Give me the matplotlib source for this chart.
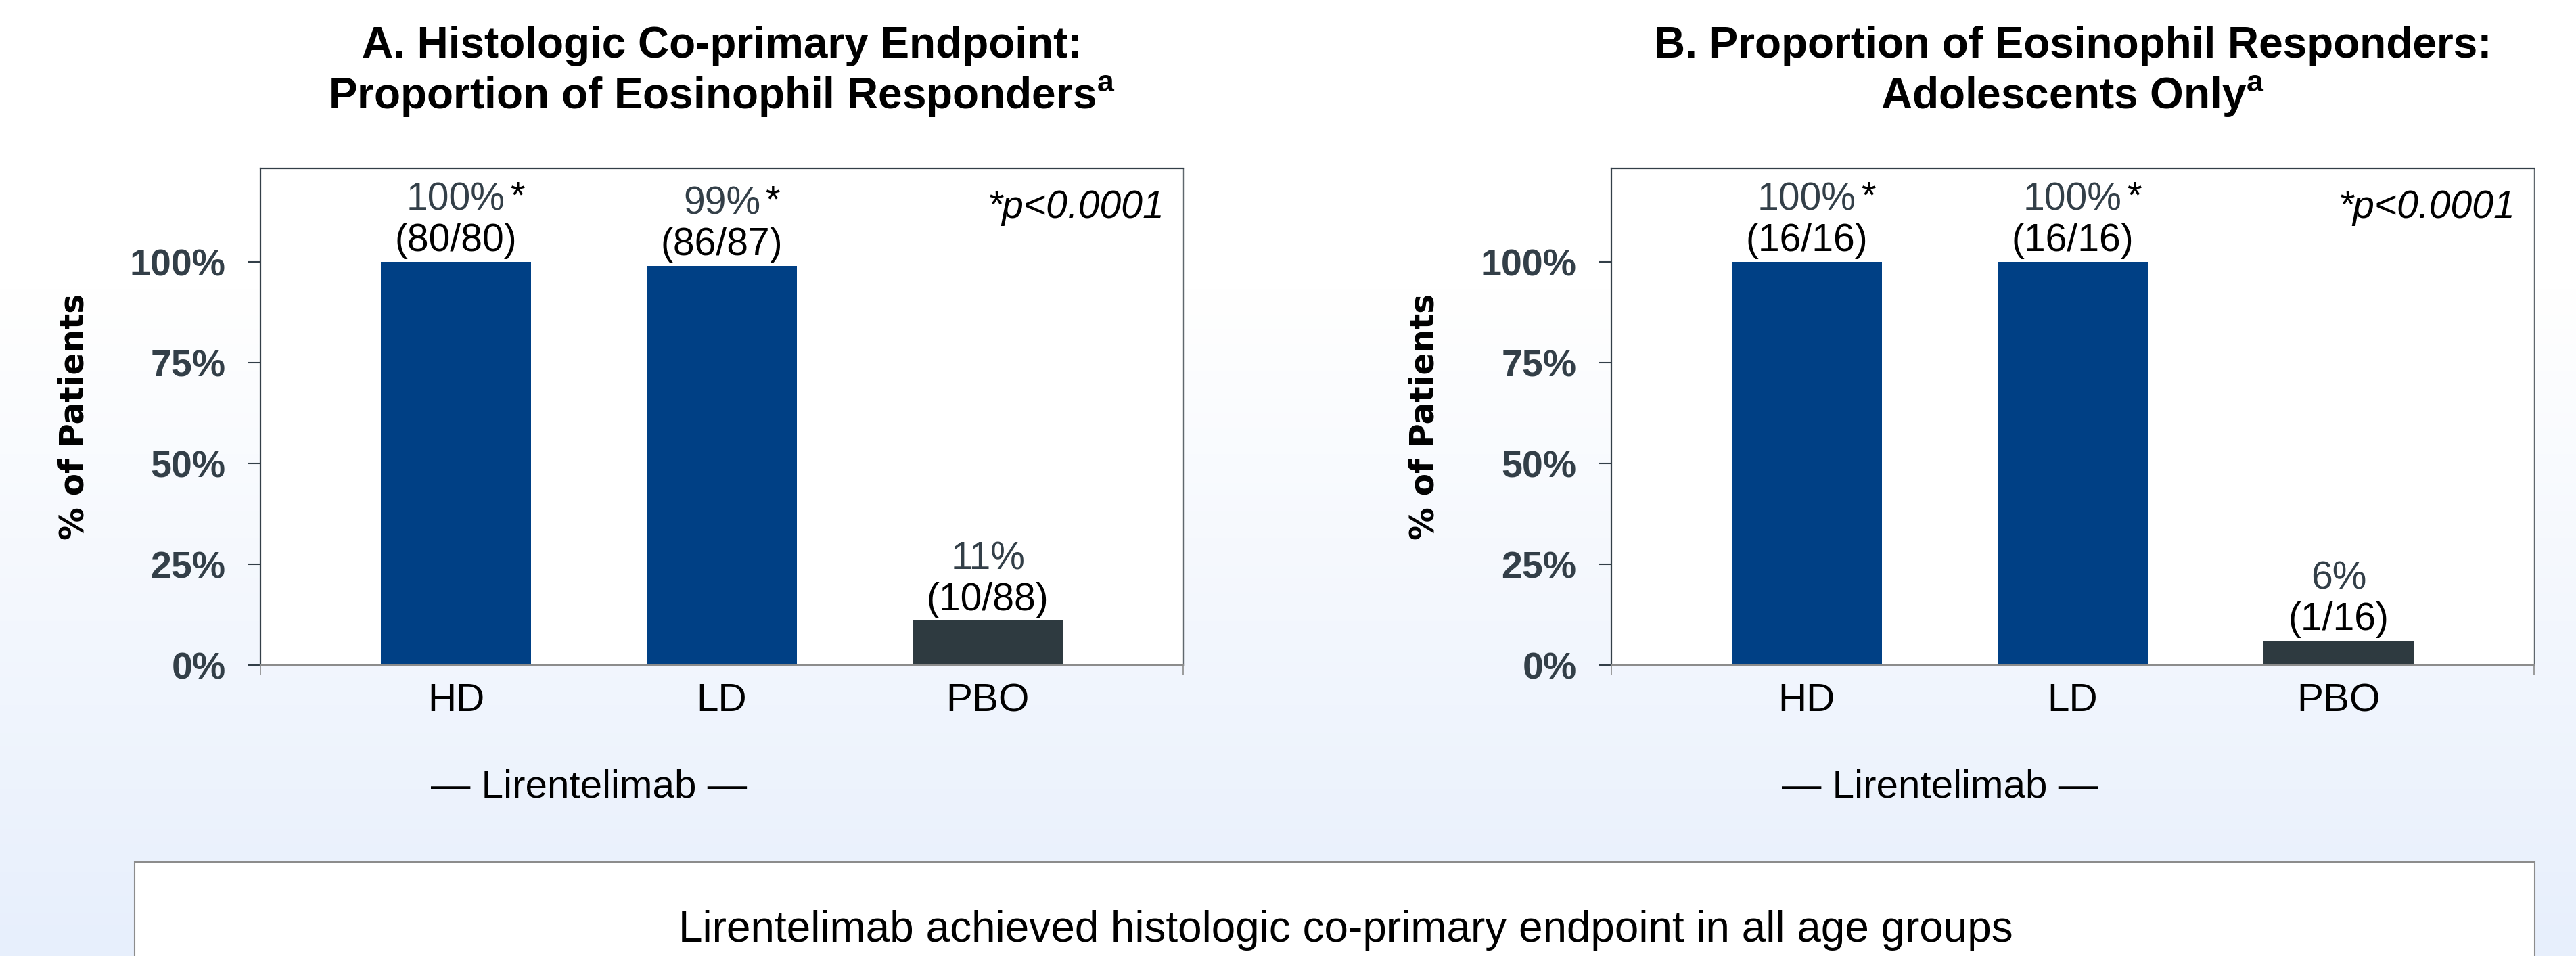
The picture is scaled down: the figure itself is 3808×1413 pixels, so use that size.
import matplotlib.pyplot as plt
import numpy as np
from matplotlib.colors import LinearSegmentedColormap
from matplotlib.patches import Rectangle

plt.rcParams["font.family"] = ["Liberation Sans", "DejaVu Sans"]

# data
groups = ["HD", "LD", "PBO"]
pct_a = [100, 99, 11]
counts_a = ["(80/80)", "(86/87)", "(10/88)"]
pct_b = [100, 100, 6]
counts_b = ["(16/16)", "(16/16)", "(1/16)"]
significant = [True, True, False]
bar_colors = ["#004085", "#004085", "#2E3A40"]
yticks = [0, 25, 50, 75, 100]
title_a = ["A. Histologic Co-primary Endpoint:", r"Proportion of Eosinophil Responders$^{\mathbf{a}}$"]
title_b = ["B. Proportion of Eosinophil Responders:", r"Adolescents Only$^{\mathbf{a}}$"]
plt.rcParams["mathtext.fontset"] = "custom"
plt.rcParams["mathtext.bf"] = "Liberation Sans:bold"
plt.rcParams["mathtext.rm"] = "Liberation Sans"

fig = plt.figure(figsize=(38.08, 14.13), dpi=100)

# background gradient
bg = fig.add_axes([0, 0, 1, 1], zorder=-5)
t = np.linspace(0, 1, 400)
frac = np.clip((t - 0.3) / 0.7, 0, 1)
cmap = LinearSegmentedColormap.from_list("bg", ["#FFFFFF", "#E7EFFC"])
bg.imshow(frac[:, None], aspect="auto", cmap=cmap, extent=[0, 1, 0, 1], vmin=0, vmax=1)
bg.axis("off")

dark = "#333F48"


def panel(left, pct, counts, title):
    ax = fig.add_axes([left, 0.3043, 0.3582, 0.5195])
    x = np.arange(len(groups))
    ax.bar(x, pct, width=0.565, color=bar_colors, zorder=2)
    ax.set_xlim(-0.735, 2.735)
    ax.set_ylim(0, 123.2)
    ax.set_xticks(x)
    ax.set_xticklabels(groups, fontsize=42)
    ax.set_xticks([-0.735, 2.735], minor=True)
    ax.tick_params(axis="x", which="major", length=0, pad=19)
    ax.tick_params(axis="x", which="minor", length=10, width=1.2, color="#8C8C8C")
    ax.set_yticks(yticks)
    ax.set_yticklabels([f"{v}%" for v in yticks], fontsize=40, fontweight="bold", color=dark)
    ax.tick_params(axis="y", length=13, width=1.5, color=dark, pad=24)
    for s, c, w in [("left", dark, 1.6), ("top", dark, 1.6), ("right", "#5F676D", 1.0), ("bottom", "#8C8C8C", 1.6)]:
        ax.spines[s].set_color(c)
        ax.spines[s].set_linewidth(w)

    for i, v in enumerate(pct):
        ax.annotate(counts[i], (x[i], v), xytext=(0, 11.5), textcoords="offset points",
                    ha="center", va="baseline", fontsize=41, color="black")
        p = ax.annotate(f"{v}%", (x[i], v), xytext=(0, 55), textcoords="offset points",
                        ha="center", va="baseline", fontsize=41, color=dark)
        if significant[i]:
            ax.annotate("*", xy=(1, 1), xycoords=p, xytext=(5, 2), textcoords="offset points",
                        ha="left", va="top", fontsize=40, color="black")

    ax.text(0.9795, 0.9005, "*p<0.0001", transform=ax.transAxes, ha="right", va="baseline",
            fontsize=41, fontstyle="italic", color="black")

    ax.text(-0.2023, 0.5, "% of Patients", transform=ax.transAxes, rotation=90,
            ha="center", va="center", fontsize=35, fontweight="bold", family="DejaVu Sans")

    ax.text(0.5, 1.2234, title[0], transform=ax.transAxes, ha="center", va="baseline",
            fontsize=46, fontweight="bold")
    ax.text(0.5, 1.1213, title[1], transform=ax.transAxes, ha="center", va="baseline",
            fontsize=46, fontweight="bold")

    ax.text(0.5, -0.2657, "\u2014 Lirentelimab \u2014", transform=ax.get_xaxis_transform(),
            ha="center", va="baseline", fontsize=42)
    return ax


panel(0.1011, pct_a, counts_a, title_a)
panel(0.6255, pct_b, counts_b, title_b)

box = Rectangle((0.0523, -0.02), 0.984 - 0.0523, 0.0984 + 0.02, transform=fig.transFigure,
                facecolor="white", edgecolor="#8C8C8C", linewidth=1.5)
fig.add_artist(box)
fig.text(0.5225, 0.0149, "Lirentelimab achieved histologic co-primary endpoint in all age groups",
         ha="center", va="baseline", fontsize=46)

fig.savefig("out.png", dpi=100)
